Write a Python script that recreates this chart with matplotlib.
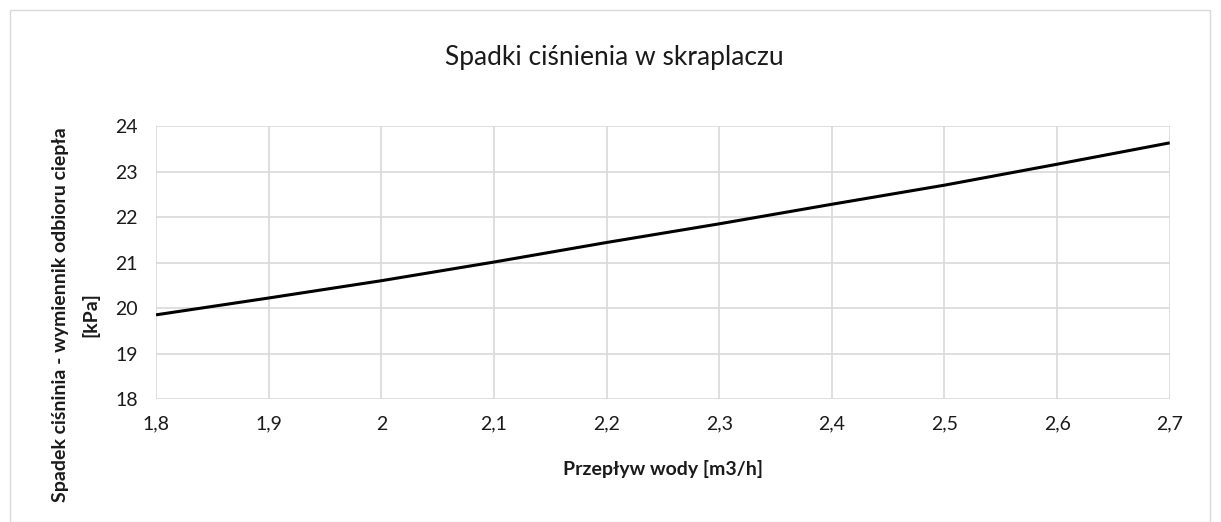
import matplotlib.pyplot as plt
from matplotlib.patches import Rectangle

# dane
przeplyw = [1.8, 1.9, 2.0, 2.1, 2.2, 2.3, 2.4, 2.5, 2.6, 2.7]
spadek = [19.85, 20.22, 20.60, 21.01, 21.44, 21.85, 22.28, 22.70, 23.16, 23.63]
x_ticks = [1.8, 1.9, 2.0, 2.1, 2.2, 2.3, 2.4, 2.5, 2.6, 2.7]
x_tick_labels = ['1,8', '1,9', '2', '2,1', '2,2', '2,3', '2,4', '2,5', '2,6', '2,7']
y_ticks = [18, 19, 20, 21, 22, 23, 24]

plt.rcParams['font.family'] = ['Lato', 'DejaVu Sans']

fig = plt.figure(figsize=(12.21, 5.22), dpi=100)
ax = fig.add_axes([0.1278, 0.2356, 0.958 - 0.1278, 0.7586 - 0.2356])

# ramka wokol calego wykresu
fig.patches.append(Rectangle((10 / 1221, 0), 1200 / 1221, 512 / 522, transform=fig.transFigure,
                             fill=False, edgecolor='#d9d9d9', linewidth=1))

ax.plot(przeplyw, spadek, color='black', linewidth=2.2, solid_capstyle='butt')

ax.set_xlim(1.8, 2.7)
ax.set_ylim(18, 24)
ax.set_xticks(x_ticks)
ax.set_xticklabels(x_tick_labels)
ax.set_yticks(y_ticks)
ax.grid(True, color='#d9d9d9', linewidth=1.2)
ax.set_axisbelow(True)
for s in ax.spines.values():
    s.set_visible(False)
ax.tick_params(length=0, labelsize=14, colors='#1a1a1a')
ax.tick_params(axis='x', pad=12)
ax.tick_params(axis='y', pad=13)

fig.text(0.503, 0.89, 'Spadki ciśnienia w skraplaczu', ha='center', va='center', fontsize=19, color='#1a1a1a')
fig.text(0.543, 0.102, 'Przepływ wody [m3/h]', ha='center', va='center', fontsize=14,
         fontweight='bold', color='#1a1a1a')
fig.text(0.062, 0.398, 'Spadek ciśninia - wymiennik odbioru ciepła\n[kPa]', ha='center', va='center',
         rotation=90, fontsize=14, fontweight='bold', color='#1a1a1a', linespacing=1.85)

fig.savefig('out.png', dpi=100)
